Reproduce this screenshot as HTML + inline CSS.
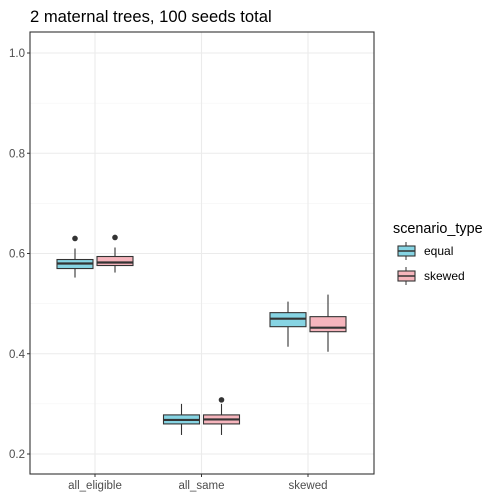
<!DOCTYPE html>
<html><head><meta charset="utf-8"><style>body{margin:0;background:#fff}svg{display:block;font-family:"Liberation Sans",Arial,sans-serif}</style></head>
<body>
<svg id="chart" width="500" height="500"></svg>
<script>
const categories=["all_eligible","all_same","skewed"];
const series=["equal","skewed"];
const colors=["#86D4E3","#F6B5BD"];
// [lowWhisker, q1, median, q3, highWhisker]
const equalStats=[[0.552,0.570,0.580,0.588,0.610],[0.238,0.260,0.268,0.278,0.300],[0.414,0.454,0.470,0.482,0.504]];
const skewedStats=[[0.562,0.576,0.582,0.594,0.612],[0.238,0.260,0.269,0.278,0.300],[0.404,0.444,0.452,0.474,0.518]];
const equalOutliers=[[0.630],[],[]];
const skewedOutliers=[[0.632],[0.308],[]];
const yTicks=[0.2,0.4,0.6,0.8,1.0];
const yMinor=[0.3,0.5,0.7,0.9];
const tickLabels=["0.2","0.4","0.6","0.8","1.0"];

const NS="http://www.w3.org/2000/svg",svg=document.getElementById('chart');
const L=30,R=374,T=32,B=474;
const y=v=>454-(v-0.2)*501.25;
const x=i=>95+i*106.5;
function el(t,a,p){const e=document.createElementNS(NS,t);for(const k in a)e.setAttribute(k,a[k]);(p||svg).appendChild(e);return e;}
const title=el('text',{x:30,y:22,'font-size':16.6,fill:'#000'});title.textContent="2 maternal trees, 100 seeds total";


const grid=el('g',{});


yMinor.forEach(v=>el('line',{x1:L,x2:R,y1:y(v),y2:y(v),stroke:'#F2F2F2','stroke-width':0.6},grid));
yTicks.forEach(v=>el('line',{x1:L,x2:R,y1:y(v),y2:y(v),stroke:'#EBEBEB','stroke-width':1.1},grid));
categories.forEach((c,i)=>el('line',{x1:x(i),x2:x(i),y1:T,y2:B,stroke:'#EBEBEB','stroke-width':1.1},grid));
const yAxis=el('g',{});


yTicks.forEach((v,i)=>{el('line',{x1:L-3,x2:L,y1:y(v),y2:y(v),stroke:'#333'},yAxis);
 const t=el('text',{x:L-5,y:y(v)+4,'font-size':11.5,fill:'#4D4D4D','text-anchor':'end'},yAxis);t.textContent=tickLabels[i];});
const xAxis=el('g',{});


categories.forEach((c,i)=>{el('line',{x1:x(i),x2:x(i),y1:B,y2:B+3,stroke:'#333'},xAxis);
 const t=el('text',{x:x(i),y:B+15,'font-size':11.5,fill:'#4D4D4D','text-anchor':'middle'},xAxis);t.textContent=c;});
const allStats=[equalStats,skewedStats],allOut=[equalOutliers,skewedOutliers];
categories.forEach((c,i)=>{allStats.forEach((st,s)=>{
 const s5=st[i],cx=x(i)+(s===0?-20:20),w=36;
 const g=el('g',{});
 
 
 el('line',{x1:cx,x2:cx,y1:y(s5[4]),y2:y(s5[3]),stroke:'#333','stroke-width':1.1},g);
 el('line',{x1:cx,x2:cx,y1:y(s5[1]),y2:y(s5[0]),stroke:'#333','stroke-width':1.1},g);
 el('rect',{x:cx-w/2,y:y(s5[3]),width:w,height:y(s5[1])-y(s5[3]),fill:colors[s],stroke:'#333','stroke-width':1.1},g);
 el('line',{x1:cx-w/2,x2:cx+w/2,y1:y(s5[2]),y2:y(s5[2]),stroke:'#333','stroke-width':2.2},g);
 allOut[s][i].forEach(o=>el('circle',{cx:cx,cy:y(o),r:2.8,fill:'#333'},g));
});});
const panel=el('rect',{x:L,y:T,width:R-L,height:B-T,fill:'none',stroke:'#333','stroke-width':1.1});


const lg=el('g',{});


const lt=el('text',{x:393,y:233,'font-size':14.4,fill:'#000'},lg);lt.textContent="scenario_type";
series.forEach((s,j)=>{const ky=242+j*25;const g=el('g',{},lg);
 
 
 el('line',{x1:406,x2:406,y1:ky,y2:ky+18,stroke:'#333'},g);
 el('rect',{x:398,y:ky+4,width:17,height:10,fill:colors[j],stroke:'#333','stroke-width':1.1},g);
 el('line',{x1:398,x2:415,y1:ky+9,y2:ky+9,stroke:'#333','stroke-width':1.5},g);
 const t=el('text',{x:424,y:ky+13,'font-size':12,fill:'#000'},g);t.textContent=s;});
</script>
</body></html>
